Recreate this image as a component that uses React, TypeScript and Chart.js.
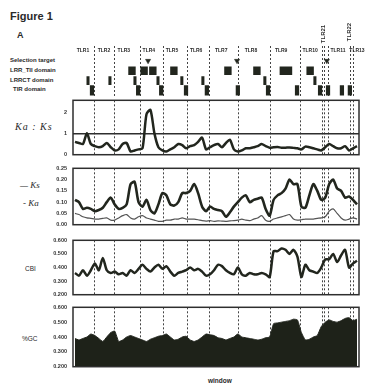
import React, { useEffect, useRef } from 'react';
import { Chart, registerables } from 'chart.js';

Chart.register(...registerables);
Chart.defaults.font.family = '"Liberation Sans", Arial, sans-serif';

// ---------- DATA ----------
const WINDOWS = Array.from({ length: 72 }, (_, i) => i + 1);

const KA_KS = [0.6, 0.55, 0.5, 1.0, 0.5, 0.4, 0.35, 0.4, 0.55, 0.35,
  0.2, 0.25, 0.5, 0.55, 0.15, 0.2, 0.25, 0.3, 1.9, 2.1,
  1.0, 0.35, 0.2, 0.15, 0.25, 0.35, 0.5, 0.45, 0.3, 0.4,
  0.45, 0.6, 0.8, 0.25, 0.35, 0.45, 0.5, 0.35, 0.55, 0.7,
  0.25, 0.15, 0.2, 0.3, 0.3, 0.35, 0.4, 0.5, 0.4, 0.33,
  0.35, 0.36, 0.33, 0.33, 0.34, 0.32, 0.3, 0.25, 0.38, 0.35,
  0.3, 0.25, 0.2, 0.35, 0.5, 0.4, 0.3, 0.3, 0.4, 0.2,
  0.3, 0.4];

const KS = [0.11, 0.1, 0.07, 0.075, 0.07, 0.06, 0.065, 0.075, 0.1, 0.12,
  0.09, 0.07, 0.075, 0.09, 0.18, 0.19, 0.1, 0.08, 0.11, 0.065,
  0.05, 0.09, 0.14, 0.13, 0.09, 0.085, 0.1, 0.14, 0.14, 0.15,
  0.18, 0.14, 0.08, 0.06, 0.08, 0.07, 0.065, 0.06, 0.035, 0.055,
  0.08, 0.1, 0.12, 0.13, 0.1, 0.11, 0.115, 0.12, 0.07, 0.04,
  0.11, 0.13, 0.14, 0.16, 0.2, 0.18, 0.18, 0.08, 0.075, 0.13,
  0.18, 0.15, 0.11, 0.12, 0.18, 0.2, 0.16, 0.15, 0.12, 0.125,
  0.11, 0.09];

const KA = [0.05, 0.045, 0.035, 0.03, 0.028, 0.025, 0.025, 0.028, 0.03, 0.02,
  0.02, 0.03, 0.04, 0.045, 0.03, 0.025, 0.035, 0.04, 0.03, 0.025,
  0.02, 0.015, 0.015, 0.02, 0.02, 0.025, 0.025, 0.03, 0.025, 0.025,
  0.025, 0.022, 0.018, 0.016, 0.018, 0.015, 0.017, 0.016, 0.015, 0.017,
  0.018, 0.02, 0.025, 0.02, 0.018, 0.025, 0.03, 0.04, 0.02, 0.015,
  0.025, 0.03, 0.035, 0.04, 0.045, 0.025, 0.02, 0.022, 0.025, 0.025,
  0.025, 0.028, 0.03, 0.035, 0.06, 0.07, 0.05, 0.03, 0.02, 0.025,
  0.03, 0.025];

const CBI = [0.36, 0.34, 0.38, 0.34, 0.38, 0.43, 0.38, 0.47, 0.38, 0.36,
  0.37, 0.35, 0.36, 0.34, 0.38, 0.36, 0.39, 0.42, 0.39, 0.37,
  0.4, 0.42, 0.39, 0.41, 0.37, 0.34, 0.36, 0.37, 0.38, 0.4,
  0.38, 0.39, 0.37, 0.34, 0.35, 0.38, 0.42, 0.41, 0.38, 0.36,
  0.35, 0.4, 0.35, 0.34, 0.36, 0.35, 0.35, 0.36, 0.35, 0.33,
  0.52, 0.52, 0.54, 0.53, 0.5, 0.53, 0.48, 0.33, 0.42, 0.38,
  0.37, 0.36, 0.4, 0.46, 0.46, 0.5, 0.44, 0.49, 0.53, 0.4,
  0.43, 0.45];

const GC = [0.39, 0.38, 0.39, 0.4, 0.42, 0.41, 0.39, 0.37, 0.4, 0.43,
  0.44, 0.37, 0.38, 0.4, 0.41, 0.4, 0.39, 0.38, 0.37, 0.385,
  0.395, 0.405, 0.41, 0.42, 0.4, 0.38, 0.385, 0.4, 0.405, 0.38,
  0.37, 0.38, 0.4, 0.42, 0.415, 0.41, 0.395, 0.39, 0.38, 0.39,
  0.4, 0.42, 0.4, 0.395, 0.39, 0.385, 0.38, 0.385, 0.395, 0.4,
  0.49, 0.495, 0.5, 0.505, 0.51, 0.52, 0.515, 0.43, 0.38, 0.385,
  0.4, 0.41, 0.47, 0.5, 0.515, 0.505, 0.5, 0.51, 0.525, 0.53,
  0.51, 0.52];

const GENE_NAMES = ['TLR1', 'TLR2', 'TLR3', 'TLR4', 'TLR5', 'TLR6', 'TLR7', 'TLR8', 'TLR9', 'TLR10', 'TLR11', 'TLR13'];
const GENE_LABEL_POS = [3.0, 8.3, 13.3, 19.6, 25.4, 31.5, 37.8, 45.3, 52.9, 60.2, 67.2, 72.0];
const ROTATED_NAMES = ['TLR21', 'TLR22'];
const ROTATED_POS = [63.4, 70.0];
const GENE_BOUNDARIES = [5.79, 11.07, 17.37, 23.16, 29.45, 34.74, 42.29, 50.1, 57.65, 63.19, 63.94, 64.7, 70.24, 71.0];

const TRACK_ROWS = ['Gene', 'Selection target', 'LRR_TII domain', 'LRRCT domain', 'TIR domain'];
const SELECTION_SITES = [19.4, 41.8, 64.4];
const LRR_DOMAINS = [[14.5, 16.2], [17.55, 19.25], [19.75, 21.45], [25.05, 26.75], [38.65, 40.35], [45.95, 47.65], [52.6, 55.6], [59.35, 61.05]];
const LRRCT_DOMAINS = [[3.98, 4.58], [9.5, 10.1], [15.8, 16.4], [21.6, 22.2], [27.6, 28.2], [32.9, 33.5], [48.5, 49.1], [61.1, 61.7]];
const TIR_DOMAINS = [[4.83, 5.73], [16.45, 17.35], [22.25, 23.15], [28.5, 29.4], [33.75, 34.65], [41.55, 42.45], [49.15, 50.05], [56.45, 57.35], [62.25, 63.15], [64.25, 65.15], [67.75, 68.65], [69.75, 70.65]];

// ---------- STYLE ----------
const INK = '#22261e';
const TEXT = '#2a2a2a';
const CANVAS_W = 366;
const AXIS_W = 73;
const RIGHT_PAD = 7;

const framePlugin = {
  id: 'frame',
  afterDraw(chart: any) {
    const { ctx, chartArea: a } = chart;
    ctx.save();
    ctx.strokeStyle = '#2e2e2e';
    ctx.lineWidth = 1.5;
    ctx.strokeRect(a.left, a.top, a.right - a.left, a.bottom - a.top);
    ctx.restore();
  },
};

const geneLabelPlugin = {
  id: 'geneLabels',
  afterDatasetsDraw(chart: any) {
    const { ctx, scales } = chart;
    const x = scales.x;
    const y = scales.y;
    ctx.save();
    ctx.fillStyle = TEXT;
    ctx.textAlign = 'center';
    ctx.textBaseline = 'middle';
    ctx.font = 'bold 5px "Liberation Sans", Arial, sans-serif';
    const yy = y.getPixelForValue(0);
    GENE_NAMES.forEach((n, i) => ctx.fillText(n, x.getPixelForValue(GENE_LABEL_POS[i]), yy));
    ctx.font = 'bold 6px "Liberation Sans", Arial, sans-serif';
    ROTATED_NAMES.forEach((n, i) => {
      ctx.save();
      ctx.translate(x.getPixelForValue(ROTATED_POS[i]), chart.chartArea.top - 12 + i * -2);
      ctx.rotate(-Math.PI / 2);
      ctx.fillText(n, 0, 0);
      ctx.restore();
    });
    ctx.restore();
  },
};

const xScale = () => ({
  type: 'linear',
  min: 0.5,
  max: 72.5,
  afterBuildTicks: (axis: any) => {
    axis.ticks = GENE_BOUNDARIES.map((v) => ({ value: v }));
  },
  ticks: { display: false },
  grid: { color: '#444', lineWidth: 1, drawTicks: false },
  border: { display: false, dash: [2, 2] },
});

const yBase = (extra: any) => ({
  position: 'left',
  afterFit: (s: any) => {
    s.width = AXIS_W;
  },
  border: { display: false },
  ...extra,
  ticks: {
    color: '#333',
    padding: 6,
    font: { size: 5.5, weight: 'bold' },
    ...(extra.ticks || {}),
  },
  grid: { display: false, drawTicks: false, ...(extra.grid || {}) },
});

const lineDs = (data: number[], width: number, color: string) => ({
  type: 'line',
  data,
  borderColor: color,
  backgroundColor: color,
  borderWidth: width,
  pointRadius: 0,
  tension: 0.25,
  fill: false,
});

const baseOptions = (yConf: any, padTop: number, padBottom: number) => ({
  responsive: false,
  animation: false,
  events: [],
  layout: { padding: { left: 0, right: RIGHT_PAD, top: padTop, bottom: padBottom } },
  plugins: { legend: { display: false }, tooltip: { enabled: false } },
  scales: { x: xScale(), y: yConf },
});

const trackConfig = () => ({
  type: 'bar',
  data: {
    datasets: [
      {
        type: 'scatter',
        indexAxis: 'x',
        data: SELECTION_SITES.map((x) => ({ x, y: 'Selection target' })),
        pointStyle: 'triangle',
        pointRotation: 180,
        pointRadius: 3,
        pointBackgroundColor: INK,
        pointBorderColor: INK,
        pointBorderWidth: 0.5,
      },
      {
        type: 'bar',
        data: LRR_DOMAINS.map((r) => ({ x: r, y: 'LRR_TII domain' })),
        backgroundColor: INK,
        barThickness: 8,
        grouped: false,
      },
      {
        type: 'bar',
        data: LRRCT_DOMAINS.map((r) => ({ x: r, y: 'LRRCT domain' })),
        backgroundColor: INK,
        barThickness: 8,
        grouped: false,
      },
      {
        type: 'bar',
        data: TIR_DOMAINS.map((r) => ({ x: r, y: 'TIR domain' })),
        backgroundColor: INK,
        barThickness: 10,
        grouped: false,
      },
    ],
  },
  options: {
    ...baseOptions(
      yBase({ type: 'category', labels: TRACK_ROWS, offset: true, ticks: { display: false } }),
      26,
      3,
    ),
    indexAxis: 'y',
  },
  plugins: [geneLabelPlugin],
});

const panel1Config = () => ({
  type: 'line',
  data: { labels: WINDOWS, datasets: [lineDs(KA_KS, 2.5, INK)] },
  options: baseOptions(
    yBase({
      min: 0,
      max: 2.55,
      ticks: { stepSize: 1, includeBounds: false },
      grid: {
        display: true,
        lineWidth: 1.5,
        color: (c: any) => (c.tick && c.tick.value === 1 ? '#2e2e2e' : 'rgba(0,0,0,0)'),
      },
    }),
    6,
    6,
  ),
  plugins: [framePlugin],
});

const panel2Config = () => ({
  type: 'line',
  data: {
    labels: WINDOWS,
    datasets: [lineDs(KA, 1.2, '#555'), lineDs(KS, 2.6, INK)],
  },
  options: baseOptions(
    yBase({
      min: 0,
      max: 0.25,
      ticks: { stepSize: 0.05, callback: (v: number) => v.toFixed(2) },
    }),
    6,
    6,
  ),
  plugins: [framePlugin],
});

const panel3Config = () => ({
  type: 'line',
  data: { labels: WINDOWS, datasets: [lineDs(CBI, 2.5, INK)] },
  options: baseOptions(
    yBase({
      min: 0.2,
      max: 0.6,
      ticks: { stepSize: 0.1, callback: (v: number) => v.toFixed(3) },
    }),
    6,
    6,
  ),
  plugins: [framePlugin],
});

const panel4Config = () => ({
  type: 'line',
  data: {
    labels: WINDOWS,
    datasets: [
      {
        ...lineDs(GC, 1, INK),
        tension: 0.15,
        fill: 'start',
        backgroundColor: '#1e2219',
      },
    ],
  },
  options: baseOptions(
    yBase({
      min: 0.2,
      max: 0.6,
      ticks: { stepSize: 0.1, callback: (v: number) => v.toFixed(3) },
    }),
    6,
    6,
  ),
  plugins: [framePlugin],
});

function ChartCanvas({ top, height, make }: { top: number; height: number; make: () => any }) {
  const ref = useRef<HTMLCanvasElement | null>(null);
  useEffect(() => {
    if (!ref.current) return;
    const chart = new Chart(ref.current, make());
    return () => chart.destroy();
  }, [make]);
  return (
    <canvas
      ref={ref}
      width={CANVAS_W}
      height={height}
      style={{ position: 'absolute', left: 0, top, width: CANVAS_W, height }}
    />
  );
}

function Label({ x, y, text, style }: { x: number; y: number; text: string; style?: React.CSSProperties }) {
  return (
    <div
      style={{
        position: 'absolute',
        left: x,
        top: y,
        transform: 'translateY(-50%)',
        lineHeight: 1,
        whiteSpace: 'nowrap',
        color: TEXT,
        fontFamily: '"Liberation Sans", Arial, sans-serif',
        ...style,
      }}
    >
      {text}
    </div>
  );
}

const serifItalic: React.CSSProperties = {
  fontFamily: '"Liberation Serif", "DejaVu Serif", serif',
  fontStyle: 'italic',
  fontSize: 10,
};
const smallBold: React.CSSProperties = { fontSize: 6, fontWeight: 'bold' };

export default function App() {
  return (
    <div
      style={{
        position: 'fixed',
        left: 0,
        top: 0,
        width: 366,
        height: 385,
        background: '#ffffff',
        overflow: 'hidden',
      }}
    >
      <Label x={10} y={16} text="Figure 1" style={{ fontSize: 11, fontWeight: 'bold' }} />
      <Label x={17} y={35} text="A" style={{ fontSize: 9, fontWeight: 'bold' }} />
      <Label x={10} y={60} text="Selection target" style={smallBold} />
      <Label x={10} y={70} text="LRR_TII domain" style={smallBold} />
      <Label x={10} y={80} text="LRRCT domain" style={smallBold} />
      <Label x={13} y={89} text="TIR domain" style={smallBold} />
      <Label x={15} y={127} text="Ka : Ks" style={{ ...serifItalic, letterSpacing: 1 }} />
      <Label x={20} y={185} text="— Ks" style={{ ...serifItalic, fontSize: 9 }} />
      <Label x={23} y={203} text="- Ka" style={{ ...serifItalic, fontSize: 9 }} />
      <Label x={25} y={269} text="CBI" style={{ fontSize: 6.5 }} />
      <Label x={22} y={339} text="%GC" style={{ fontSize: 6.5 }} />
      <Label x={208} y={381} text="window" style={{ fontSize: 6.5, fontWeight: 'bold' }} />
      <ChartCanvas top={20} height={80} make={trackConfig} />
      <ChartCanvas top={91} height={73} make={panel1Config} />
      <ChartCanvas top={159} height={75} make={panel2Config} />
      <ChartCanvas top={231} height={73} make={panel3Config} />
      <ChartCanvas top={298} height={78} make={panel4Config} />
    </div>
  );
}
